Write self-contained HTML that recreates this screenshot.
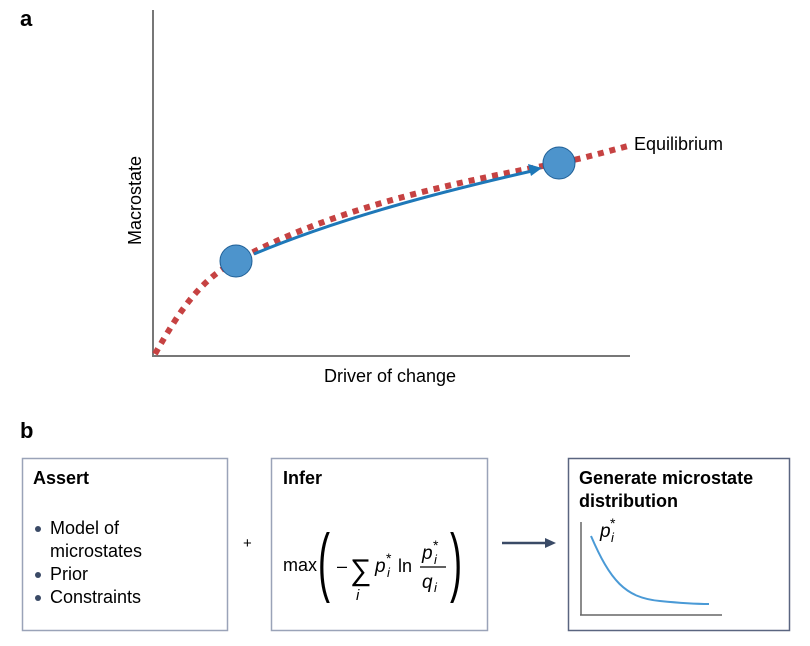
<!DOCTYPE html>
<html><head><style>
body{margin:0;background:#fff;}
svg{display:block;font-family:"Liberation Sans",sans-serif;}
</style></head><body>
<svg width="810" height="646" viewBox="0 0 810 646">
<text x="20" y="26" font-size="22" font-weight="bold">a</text>
<text x="20" y="438" font-size="22" font-weight="bold">b</text>
<line x1="153" y1="10" x2="153" y2="357" stroke="#777" stroke-width="2"/>
<line x1="152" y1="356" x2="630" y2="356" stroke="#777" stroke-width="2"/>
<text x="0" y="0" font-size="18" transform="translate(141,245) rotate(-90)">Macrostate</text>
<text x="390" y="382" font-size="18" text-anchor="middle">Driver of change</text>
<path d="M155,354 C180,310 200,280 236,261 C330,210 440,185 559,163 C585,158 605,152 628,146" fill="none" stroke="#c64242" stroke-width="6" stroke-dasharray="6,6"/>
<path d="M254,254 C340,218 440,192 532,171" fill="none" stroke="#1e78b8" stroke-width="3"/>
<polygon points="542,168 528,164 531,176" fill="#1e78b8"/>
<circle cx="236" cy="261" r="16" fill="#4d94cc" stroke="#1f5f96" stroke-width="1"/>
<circle cx="559" cy="163" r="16" fill="#4d94cc" stroke="#1f5f96" stroke-width="1"/>
<text x="634" y="150" font-size="18">Equilibrium</text>
<rect x="22.5" y="458.5" width="205" height="172" fill="none" stroke="#9aa3b8" stroke-width="1.5"/>
<text x="33" y="484" font-size="18" font-weight="bold">Assert</text>
<g font-size="18">
<circle cx="38" cy="529" r="3" fill="#3a4a66"/><text x="50" y="534">Model of</text>
<text x="50" y="557">microstates</text>
<circle cx="38" cy="575" r="3" fill="#3a4a66"/><text x="50" y="580">Prior</text>
<circle cx="38" cy="598" r="3" fill="#3a4a66"/><text x="50" y="603">Constraints</text>
</g>
<text x="243" y="548" font-size="15">+</text>
<rect x="271.5" y="458.5" width="216" height="172" fill="none" stroke="#9aa3b8" stroke-width="1.5"/>
<text x="283" y="484" font-size="18" font-weight="bold">Infer</text>
<text x="283" y="571" font-size="18">max</text>
<text x="0" y="0" font-size="40" transform="translate(318,587) scale(0.9,1.9)">(</text>
<text x="337" y="572" font-size="18">–</text>
<text x="350" y="580" font-size="30">∑</text>
<text x="356" y="600" font-size="15" font-style="italic">i</text>
<text x="375" y="572" font-size="19" font-style="italic">p</text>
<text x="387" y="577" font-size="13" font-style="italic">i</text>
<text x="386" y="563" font-size="14">*</text>
<text x="398" y="572" font-size="18">ln</text>
<text x="422" y="559" font-size="19" font-style="italic">p</text>
<text x="434" y="564" font-size="13" font-style="italic">i</text>
<text x="433" y="550" font-size="14">*</text>
<line x1="420" y1="567" x2="446" y2="567" stroke="#000" stroke-width="1.2"/>
<text x="422" y="588" font-size="19" font-style="italic">q</text>
<text x="434" y="592" font-size="13" font-style="italic">i</text>
<text x="0" y="0" font-size="40" transform="translate(450,587) scale(0.9,1.9)">)</text>
<line x1="502" y1="543" x2="550" y2="543" stroke="#3a4a66" stroke-width="2.5"/>
<polygon points="556,543 545,538 545,548" fill="#3a4a66"/>
<rect x="568.5" y="458.5" width="221" height="172" fill="none" stroke="#5a6580" stroke-width="1.5"/>
<text x="579" y="484" font-size="18" font-weight="bold">Generate microstate</text>
<text x="579" y="507" font-size="18" font-weight="bold">distribution</text>
<line x1="581" y1="522" x2="581" y2="615" stroke="#666" stroke-width="1.5"/>
<line x1="580" y1="615" x2="722" y2="615" stroke="#666" stroke-width="1.5"/>
<path d="M591,536 C610,580 625,598 660,601 C680,603 695,604 709,604" fill="none" stroke="#4a9ad6" stroke-width="2"/>
<text x="600" y="537" font-size="19" font-style="italic">p</text>
<text x="611" y="542" font-size="13" font-style="italic">i</text>
<text x="610" y="528" font-size="14">*</text>
</svg>
</body></html>
